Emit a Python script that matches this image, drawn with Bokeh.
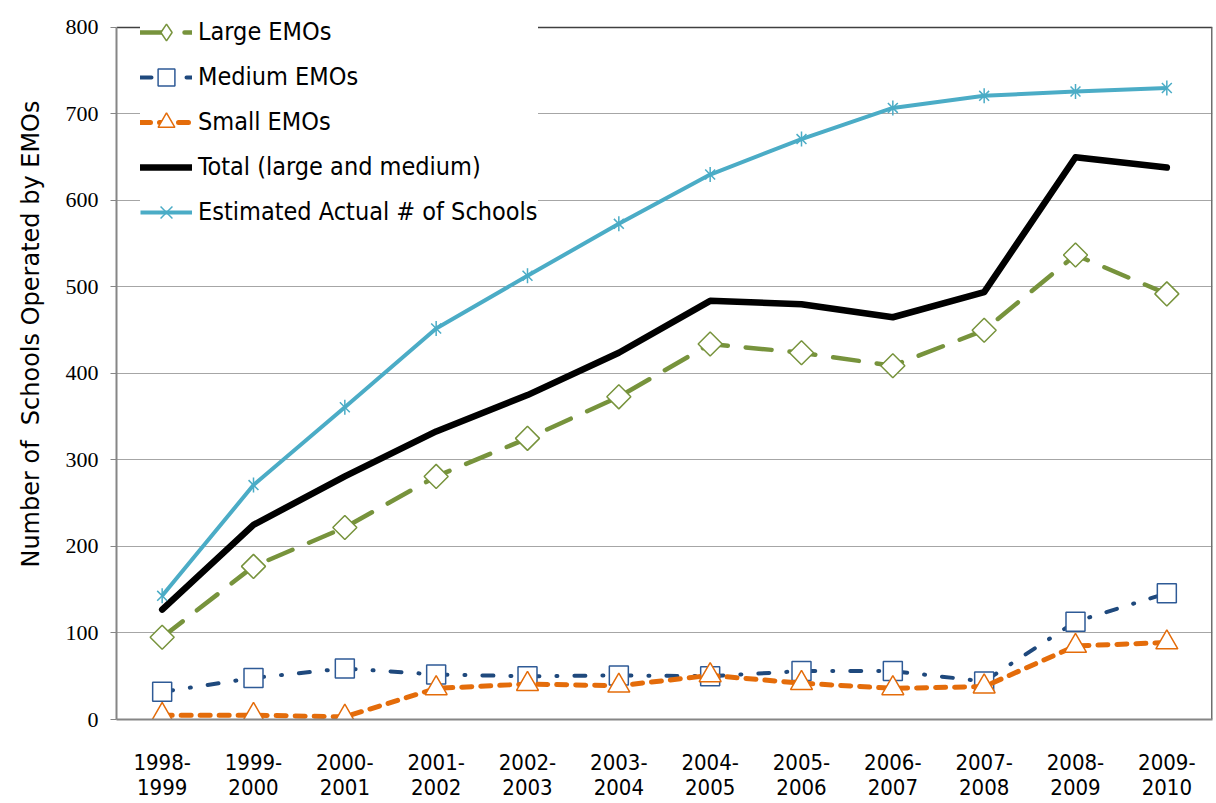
import math
from bokeh.plotting import figure
from bokeh.models import Legend, LegendItem, Title, FixedTicker
from bokeh.embed import file_html
from bokeh.resources import INLINE

years = ["1998-\n1999", "1999-\n2000", "2000-\n2001", "2001-\n2002", "2002-\n2003", "2003-\n2004",
         "2004-\n2005", "2005-\n2006", "2006-\n2007", "2007-\n2008", "2008-\n2009", "2009-\n2010"]
large = [95, 177, 222, 281, 325, 373, 434, 424, 409, 450, 537, 492]
medium = [32, 48, 59, 52, 50, 51, 50, 56, 56, 44, 113, 146]
small = [5, 5, 3, 36, 41, 39, 51, 42, 36, 38, 85, 89]
total = [127, 225, 281, 333, 375, 424, 484, 480, 465, 494, 650, 638]
estimated = [143, 271, 361, 452, 513, 573, 630, 671, 707, 721, 726, 730]
y_ticks = [0, 100, 200, 300, 400, 500, 600, 700, 800]
y_max = 800
y_title = "Number of\u00a0 Schools Operated by EMOs"

SANS_N = "'Liberation Sans Narrow', 'DejaVu Sans Condensed', 'Liberation Sans', sans-serif"
SANS = "'DejaVu Sans', sans-serif"

# frame extends a little above the 800 line so the legend (which overhangs the plot area) is not clipped
p = figure(x_range=years, y_range=(0, 819.6), width=1215, height=802,
           output_backend="svg", toolbar_location=None,
           min_border_left=116, min_border_right=3, min_border_top=10, min_border_bottom=82)
p.background_fill_color = "white"
p.border_fill_color = "white"
p.outline_line_color = None

p.xgrid.grid_line_color = None
p.ygrid.grid_line_color = "#a6a6a6"
p.ygrid.grid_line_width = 1
p.yaxis.ticker = FixedTicker(ticks=y_ticks)
p.yaxis.bounds = (0, y_max)
p.yaxis.minor_tick_line_color = None
p.yaxis.major_tick_in = 0
p.yaxis.major_tick_out = 6
p.yaxis.major_tick_line_color = "#868686"
p.yaxis.axis_line_color = "#868686"
p.yaxis.axis_line_width = 2
p.yaxis.major_label_text_font = "Liberation Serif"
p.yaxis.major_label_text_font_size = "22px"
p.yaxis.major_label_text_color = "black"
p.yaxis.major_label_standoff = 12

p.xaxis.major_tick_line_color = None
p.xaxis.minor_tick_line_color = None
p.xaxis.axis_line_color = "#868686"
p.xaxis.axis_line_width = 2
p.xaxis.major_label_text_font = SANS_N
p.xaxis.major_label_text_font_size = "22px"
p.xaxis.major_label_text_color = "black"
p.xaxis.major_label_standoff = 24
p.xaxis.major_label_text_line_height = 1.0

GREEN = "#77933C"
BLUE = "#1F497D"
BLUE_M = "#2E5A96"
ORANGE = "#E46C0A"
CYAN = "#4BACC6"

# plot-area border (top and right) at the 800 level
p.segment(x0=[0], y0=[y_max], x1=[len(years)], y1=[y_max], line_color="#404040", line_width=1.5)
p.segment(x0=[len(years)], y0=[0], x1=[len(years)], y1=[y_max], line_color="#6e6e6e", line_width=3)

l1 = p.line(years, large, line_color=GREEN, line_width=4.5, line_dash="26 18", line_cap="round")
s1 = p.scatter(years, large, marker="square", angle=math.pi / 4, size=17,
               fill_color="white", line_color=GREEN, line_width=1.5)
s1_leg = p.scatter(years, large, marker="diamond", size=17, visible=False,
                   fill_color="white", line_color=GREEN, line_width=1.5)

l2 = p.line(years, medium, line_color=BLUE, line_width=4, line_dash="11 17 1 17", line_cap="round")
s2 = p.scatter(years, medium, marker="square", size=19,
               fill_color="white", line_color=BLUE_M, line_width=1.5)

l3 = p.line(years, small, line_color=ORANGE, line_width=5, line_dash="10 9", line_cap="round")
s3 = p.scatter(years, small, marker="triangle", size=22,
               fill_color="white", line_color=ORANGE, line_width=1.5)

l4 = p.line(years, total, line_color="black", line_width=6.5, line_join="round", line_cap="round")

l5 = p.line(years, estimated, line_color=CYAN, line_width=4, line_join="round")
s5a = p.scatter(years, estimated, marker="x", size=14, line_color=CYAN, line_width=1.5)
s5b = p.scatter(years, estimated, marker="dash", angle=math.pi / 2, size=15, line_color=CYAN, line_width=1.5)

legend = Legend(items=[
    LegendItem(label="Large EMOs", renderers=[l1, s1_leg]),
    LegendItem(label="Medium EMOs", renderers=[l2, s2]),
    LegendItem(label="Small EMOs", renderers=[l3, s3]),
    LegendItem(label="Total (large and medium)", renderers=[l4]),
    LegendItem(label="Estimated Actual # of Schools", renderers=[l5, s5a, s5b]),
], location=(24, 485))
legend.glyph_width = 52
legend.glyph_height = 42
legend.label_height = 45
legend.spacing = 0
legend.padding = 0
legend.margin = 0
legend.label_standoff = 6
legend.label_text_font = SANS_N
legend.label_text_font_size = "25px"
legend.label_text_color = "black"
legend.border_line_color = None
legend.background_fill_color = "white"
legend.background_fill_alpha = 1.0
p.add_layout(legend, "center")

yt = Title(text=y_title, align="right", vertical_align="top", offset=90, standoff=31,
           text_font=SANS, text_font_size="24px", text_font_style="normal", text_color="black")
p.add_layout(yt, "left")

open("out.html", "w").write(file_html(p, INLINE))
